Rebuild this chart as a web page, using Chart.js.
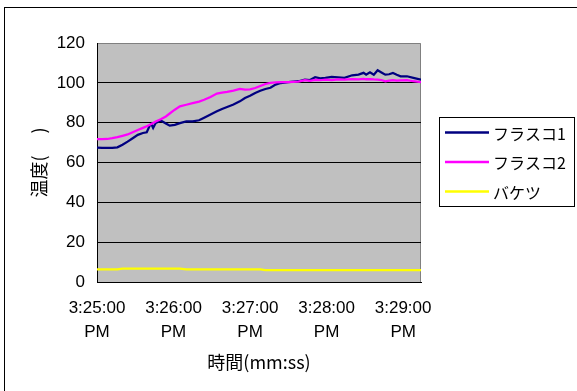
<!DOCTYPE html>
<html>
<head>
<meta charset="utf-8">
<script src="https://cdn.jsdelivr.net/npm/chart.js@4.4.0/dist/chart.umd.min.js"></script>
<style>
  html, body { margin: 0; padding: 0; background: #fff; }
  canvas { display: block; }
</style>
</head>
<body>
<canvas id="chart" width="577" height="391"></canvas>
<script>
// Sample times in seconds after 3:25:00 PM
const seconds = [
  0, 4, 8, 12, 16, 20, 24, 28, 32, 36, 39, 41, 42.5, 44, 46, 50, 54, 57, 61, 65,
  70, 75, 80, 84, 89, 94, 98, 102, 107, 112, 116, 120, 124, 128, 132, 136, 140, 144, 150, 158,
  163, 167, 171, 175, 179, 184, 189, 194, 200, 205, 209, 211, 214, 217, 220, 223, 226, 229, 232, 235,
  238, 243, 248, 254
];

// Temperatures (°C)
const flask1 = [
  67.5, 67.4, 67.3, 67.4, 67.6, 68.9, 70.5, 72.2, 73.9, 74.8, 75.2, 78.1, 79.4, 77.3, 79.8, 81.1, 79.6, 78.5, 78.9, 79.8,
  80.6, 80.6, 81.2, 82.5, 84.1, 85.7, 86.9, 87.9, 89.1, 90.7, 92.4, 93.5, 94.9, 96.0, 96.9, 97.5, 99.1, 99.9, 100.3, 100.8,
  101.6, 101.4, 102.8, 102.3, 102.5, 103.0, 102.8, 102.5, 103.8, 104.1, 105.0, 104.1, 105.3, 104.1, 106.3, 105.2, 104.1, 104.3, 105.0, 104.1,
  103.3, 103.3, 102.5, 101.6
];
const flask2 = [
  71.7, 71.7, 71.8, 72.2, 72.7, 73.4, 74.1, 75.2, 76.3, 77.4, 78.2, 78.8, 79.3, 79.8, 80.6, 81.7, 83.1, 84.6, 86.5, 88.2,
  89.0, 89.8, 90.6, 91.5, 92.9, 94.6, 95.1, 95.5, 96.1, 96.9, 96.6, 96.7, 97.4, 98.4, 99.4, 100.0, 100.2, 100.3, 100.3, 100.6,
  101.3, 101.0, 101.5, 101.3, 101.6, 101.4, 101.7, 101.6, 101.8, 101.7, 102.0, 101.8, 101.9, 101.7, 101.6, 101.4, 100.8, 101.1, 101.3, 101.1,
  101.2, 101.3, 100.8, 100.3
];
const bucket = [
  6.3, 6.3, 6.3, 6.3, 6.3, 6.7, 6.7, 6.7, 6.7, 6.7, 6.7, 6.7, 6.7, 6.7, 6.7, 6.7, 6.7, 6.7, 6.7, 6.7,
  6.3, 6.3, 6.3, 6.3, 6.3, 6.3, 6.3, 6.3, 6.3, 6.3, 6.3, 6.3, 6.3, 6.3, 6.0, 6.0, 6.0, 6.0, 6.0, 6.0,
  6.0, 6.0, 6.0, 6.0, 6.0, 6.0, 6.0, 6.0, 6.0, 6.0, 6.0, 6.0, 6.0, 6.0, 6.0, 6.0, 6.0, 6.0, 6.0, 6.0,
  6.0, 6.0, 6.0, 6.0
];

const seriesNames = ['フラスコ1', 'フラスコ2', 'バケツ'];
const seriesColors = ['#000080', '#FF00FF', '#FFFF00'];

const tickSeconds = [0, 60, 120, 180, 240];
const tickLabels = [
  ['3:25:00', 'PM'], ['3:26:00', 'PM'], ['3:27:00', 'PM'], ['3:28:00', 'PM'], ['3:29:00', 'PM']
];
const xTitle = '時間(mm:ss)';
const yTitle = '温度(　 )';

const LATIN = '"Liberation Sans", Arial, sans-serif';
const CJK = '"Noto Sans CJK JP", "Noto Sans", sans-serif';

const toPoints = arr => seconds.map((s, i) => ({ x: s, y: arr[i] }));

// Page frame, grey plot backdrop and plot border
const backdrop = {
  id: 'backdrop',
  beforeDraw(chart) {
    const { ctx, chartArea: a } = chart;
    ctx.save();
    ctx.fillStyle = '#fff';
    ctx.fillRect(0, 0, chart.width, chart.height);
    ctx.strokeStyle = '#000';
    ctx.lineWidth = 1;
    ctx.strokeRect(4.5, 7.5, 1000, 1000);
    ctx.fillStyle = '#C0C0C0';
    ctx.fillRect(a.left, a.top, a.right - a.left, a.bottom - a.top);
    ctx.strokeStyle = '#808080';
    ctx.beginPath();
    ctx.moveTo(a.left, a.top + 0.5);
    ctx.lineTo(a.right - 0.5, a.top + 0.5);
    ctx.lineTo(a.right - 0.5, a.bottom);
    ctx.stroke();
    ctx.restore();
  }
};

// Boxed legend to the right of the plot
const sideLegend = {
  id: 'sideLegend',
  afterDraw(chart) {
    const { ctx } = chart;
    ctx.save();
    ctx.strokeStyle = '#000';
    ctx.lineWidth = 1;
    ctx.strokeRect(439.5, 117.5, 135, 89);
    const rows = [132.5, 162, 191.5];
    ctx.font = '16px ' + CJK;
    ctx.textBaseline = 'middle';
    ctx.textAlign = 'left';
    chart.data.datasets.forEach((ds, i) => {
      ctx.strokeStyle = ds.borderColor;
      ctx.lineWidth = 2.5;
      ctx.beginPath();
      ctx.moveTo(445, rows[i]);
      ctx.lineTo(489, rows[i]);
      ctx.stroke();
      ctx.fillStyle = '#000';
      ctx.fillText(ds.label, 493, rows[i] + 1);
    });
    ctx.restore();
  }
};

new Chart(document.getElementById('chart'), {
  type: 'line',
  data: {
    datasets: [
      { label: seriesNames[0], data: toPoints(flask1), borderColor: seriesColors[0], order: 2 },
      { label: seriesNames[1], data: toPoints(flask2), borderColor: seriesColors[1], order: 1 },
      { label: seriesNames[2], data: toPoints(bucket), borderColor: seriesColors[2], order: 0 }
    ]
  },
  options: {
    responsive: false,
    animation: false,
    events: [],
    elements: {
      line: { borderWidth: 2.25, tension: 0, fill: false },
      point: { radius: 0 }
    },
    layout: { padding: { top: 43, right: 156, bottom: 0, left: 0 } },
    plugins: {
      legend: { display: false },
      tooltip: { enabled: false }
    },
    scales: {
      x: {
        type: 'linear',
        min: 0,
        max: 254,
        afterBuildTicks: s => { s.ticks = tickSeconds.map(v => ({ value: v })); },
        afterFit: s => { s.height = 109; },
        grid: { display: false, drawTicks: false },
        border: { display: true, color: '#000', width: 1 },
        ticks: {
          padding: 14,
          maxRotation: 0,
          autoSkip: false,
          color: '#000',
          font: { family: LATIN, size: 17, lineHeight: 1.41 },
          callback: v => tickLabels[tickSeconds.indexOf(v)]
        },
        title: {
          display: true,
          text: xTitle,
          color: '#000',
          font: { family: CJK, size: 18 },
          padding: { top: 0, bottom: 18 }
        }
      },
      y: {
        min: 0,
        max: 120,
        afterFit: s => { s.width = 97; },
        grid: {
          drawTicks: false,
          color: c => (c.tick.value === 0 || c.tick.value === 120) ? 'rgba(0,0,0,0)' : '#000',
          lineWidth: 1
        },
        border: { display: true, color: '#000', width: 1 },
        ticks: {
          stepSize: 20,
          padding: 12,
          color: '#000',
          font: { family: LATIN, size: 17 }
        },
        title: {
          display: true,
          text: yTitle,
          color: '#000',
          font: { family: CJK, size: 18 },
          padding: { top: 28, bottom: 0 }
        }
      }
    }
  },
  plugins: [backdrop, sideLegend]
});
</script>
</body>
</html>
